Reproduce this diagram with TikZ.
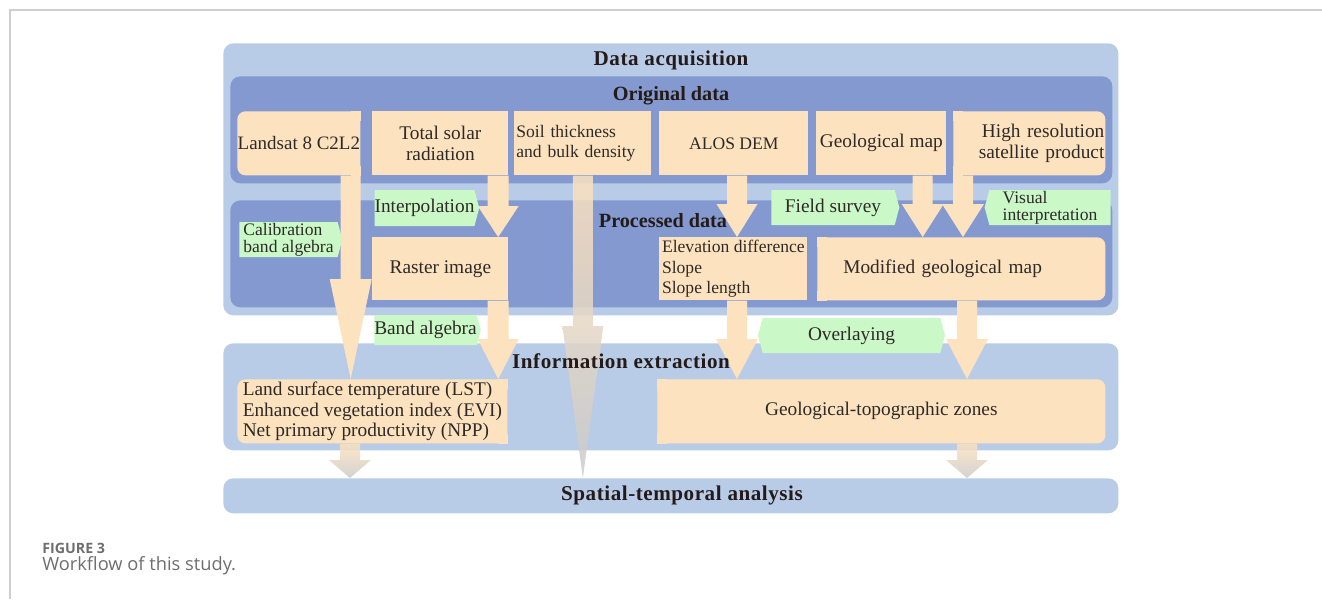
\documentclass[tikz,border=0pt]{standalone}
\usepackage{fontspec}
\setmainfont{Liberation Serif}
\newfontfamily\titlefont[LetterSpace=2.6]{Liberation Serif}
\newfontfamily\captionfont{Open Sans}
\usetikzlibrary{calc,shapes.symbols}
\definecolor{wfink}{HTML}{2E2A28}
\definecolor{wftitle}{HTML}{241A18}
\definecolor{wflight}{HTML}{B8CCE8}
\definecolor{wfdark}{HTML}{8499CF}
\definecolor{wfpeach}{HTML}{FDE2BF}
\definecolor{wfgreen}{HTML}{CAF8C6}
\definecolor{wfgray}{HTML}{CBCBCB}
\definecolor{wfframe}{HTML}{CFCFCF}
\definecolor{wfcaption}{HTML}{6E6E6E}

% block arrow: [style]{start}{tip}{half shaft}{half head}{head length}
\newcommand{\blockarrow}[6][flow]{%
  \path[#1] ($(#2)+(-#4,0)$) -- ($(#2)+(#4,0)$) -- ($(#3)+(#4,-#6)$)
    -- ($(#3)+(#5,-#6)$) -- (#3) -- ($(#3)+(-#5,-#6)$)
    -- ($(#3)+(-#4,-#6)$) -- cycle;}

\begin{document}
\begin{tikzpicture}[
  x=0.02cm,
  y=-0.02cm,
  every node/.style={font=\fontsize{11}{11.6}\selectfont, text=wfink},
  sz/.style 2 args={minimum width=#1*0.02cm, minimum height=#2*0.02cm},
  tw/.style={text width=#1*0.02cm},
  panel/.style={anchor=north west, inner sep=0pt, rounded corners=0.2cm},
  outerpanel/.style={panel, fill=wflight},
  innerpanel/.style={panel, fill=wfdark},
  paneltitle/.style={font=\titlefont\fontsize{12}{14}\selectfont\bfseries,
                     text=wftitle, inner sep=0pt},
  subtitle/.style={font=\fontsize{11.5}{14}\selectfont\bfseries, text=wftitle,
                   inner sep=0pt},
  databox/.style={anchor=north west, fill=wfpeach, inner sep=0pt, align=center},
  listbox/.style={databox, align=left},
  tagbox/.style={shape=signal, fill=wfgreen, inner sep=0pt,
                 signal pointer angle=150, align=left},
  twoline/.style={font=\fontsize{10}{9.6}\selectfont},
  flow/.style={fill=wfpeach},
  fadeflow/.style={top color=wfpeach, bottom color=wfgray, fill opacity=0.85},
  frameline/.style={wfframe, line width=0.7pt}
]
  \useasboundingbox (0,0) rectangle (1322,599);

  % ---- page frame ----
  \draw[frameline] (10,599) -- (10,10) -- (1322,10);

  % ---- panels ----
  \node[outerpanel, sz={895}{272}] (acq)  at (223,43)  {};
  \node[innerpanel, sz={882}{107}] (orig) at (230,76)  {};
  \node[innerpanel, sz={882}{107}] (proc) at (230,200) {};
  \node[outerpanel, sz={895}{107}] (info) at (223,343) {};
  \node[outerpanel, sz={895}{35}]  (spat) at (223,478) {};

  % ---- original data ----
  \node[databox, sz={123}{64}, rounded corners=0.16cm,
        font=\fontsize{10.8}{11.6}\selectfont] (lsat) at (237,111) {Landsat 8 C2L2};
  \node[databox, sz={136}{64}] (solar) at (372,111) {Total solar\\radiation};
  \node[listbox, sz={137}{64}, tw=133, font=\fontsize{10}{11.6}\selectfont]
        (soil) at (514,111) {Soil thickness\\and bulk density};
  \node[databox, sz={149}{64}, font=\fontsize{10}{11.6}\selectfont]
        (alos) at (659,111) {ALOS DEM};
  \node[databox, sz={130}{64}] (geo) at (816,111) {Geological map};
  \node[databox, sz={152}{64}, tw=150, align=right, rounded corners=0.16cm]
        (hires) at (953,111) {High resolution\\satellite product};

  % ---- processed data ----
  \node[databox, sz={136}{63}] (raster) at (372,237) {Raster image};
  \node[listbox, sz={148}{63}, font=\fontsize{10}{11.8}\selectfont]
        (elev) at (659,237) {Elevation difference\\Slope\\Slope length};
  \node[listbox, sz={288}{63}, tw=236, rounded corners=0.16cm]
        (modgeo) at (817,237) {Modified geological map};

  % ---- information extraction ----
  \node[listbox, sz={270}{64}, rounded corners=0.16cm] (lst) at (237,379)
        {Land surface temperature (LST)\\Enhanced vegetation index (EVI)\\Net primary productivity (NPP)};
  \node[databox, sz={448}{64}, rounded corners=0.16cm]
        (zones) at (657,379) {Geological-topographic zones};

  % ---- square off the corners that meet an arrow or a neighbour ----
  \fill[wfpeach] (lsat.north east) rectangle ++(-10,10);
  \fill[wfpeach] (lsat.south east) rectangle ++(-10,-10);
  \fill[wfpeach] (hires.north west) rectangle ++(10,10);
  \fill[wfpeach] (hires.south west) rectangle ++(10,-10);
  \fill[wfpeach] (modgeo.north west) rectangle ++(10,10);
  \fill[wfpeach] (modgeo.south west) rectangle ++(10,-10);
  \fill[wfpeach] (lst.north east) rectangle ++(-10,10);
  \fill[wfpeach] (lst.south east) rectangle ++(-10,-10);
  \fill[wfpeach] (zones.north west) rectangle ++(10,10);
  \fill[wfpeach] (zones.south west) rectangle ++(10,-10);

  % ---- arrows ----
  \coordinate (lsat-o)    at ($(lsat.south east)+(-10,0)$);
  \coordinate (lst-i)     at (lsat-o |- lst.north);
  \blockarrow{lsat-o}{lst-i}{10}{21}{100}

  \coordinate (solar-o)   at ($(solar.south east)+(-10.5,0)$);
  \coordinate (raster-i)  at (solar-o |- raster.north);
  \blockarrow{solar-o}{raster-i}{10.5}{20.5}{31}

  \coordinate (raster-o)  at ($(raster.south east)+(-10.5,0)$);
  \coordinate (lst-i2)    at (raster-o |- lst.north);
  \blockarrow{raster-o}{lst-i2}{10.5}{20.5}{40}

  \coordinate (soil-o)    at (soil.south);
  \coordinate (spat-i)    at (soil-o |- spat.north);
  \blockarrow[fadeflow]{soil-o}{spat-i}{10}{20.5}{152}

  \coordinate (alos-o)    at ($(alos.south west)+(78,0)$);
  \coordinate (elev-i)    at (alos-o |- elev.north);
  \blockarrow{alos-o}{elev-i}{10}{20.5}{33}

  \coordinate (geo-o)     at ($(geo.south east)+(-24,0)$);
  \coordinate (modgeo-i)  at (geo-o |- modgeo.north);
  \blockarrow{geo-o}{modgeo-i}{10}{21}{33}

  \coordinate (hires-o)   at ($(hires.south west)+(10,0)$);
  \coordinate (modgeo-i2) at (hires-o |- modgeo.north);
  \blockarrow{hires-o}{modgeo-i2}{10}{21}{33}

  \coordinate (elev-o)    at ($(elev.south west)+(78,0)$);
  \coordinate (zones-i)   at (elev-o |- zones.north);
  \blockarrow{elev-o}{zones-i}{10}{21}{40}

  \coordinate (modgeo-o)  at ($(modgeo.south west)+(150,0)$);
  \coordinate (zones-i2)  at (modgeo-o |- zones.north);
  \blockarrow{modgeo-o}{zones-i2}{10}{21}{40}

  \coordinate (lst-o)     at ($(lst.south west)+(113,0)$);
  \coordinate (spat-i2)   at (lst-o |- spat.north);
  \blockarrow[fadeflow]{lst-o}{spat-i2}{10}{21}{18}

  \coordinate (zones-o)   at ($(zones.south west)+(310,0)$);
  \coordinate (spat-i3)   at (zones-o |- spat.north);
  \blockarrow[fadeflow]{zones-o}{spat-i3}{10}{21}{18}

  % ---- method tags ----
  \node[tagbox, twoline, signal to=east, sz={103}{35}] (calib) at (288.5,239.5)
        {Calibration\\band algebra};
  \node[tagbox, signal to=east, sz={103}{36}] (interp) at (424.5,208) {Interpolation};
  \node[tagbox, signal to=east, sz={105}{30}] (bandalg) at (425.5,330) {Band algebra};
  \node[tagbox, signal to=east, sz={128}{35}] (field) at (833,207.5) {Field survey};
  \node[tagbox, twoline, signal to=west, sz={126}{35}] (visual) at (1050,207.5)
        {Visual\\interpretation};
  \node[tagbox, signal to=east and west, sz={187}{35}] (overlay) at (851.5,335.5)
        {Overlaying};

  % ---- panel titles ----
  \node[paneltitle] (acq-t)  at (671,60)  {Data acquisition};
  \node[subtitle]   (orig-t) at (671,96)  {Original data};
  \node[subtitle]   (proc-t) at (663,221) {Processed data};
  \node[paneltitle] (info-t) at (621,361) {Information extraction};
  \node[paneltitle] (spat-t) at (682,495) {Spatial-temporal analysis};

  % ---- caption ----
  \node[anchor=base west, inner sep=0pt, text=wfcaption,
        font=\captionfont\fontsize{8.1}{9}\selectfont\bfseries]
        (fig-no) at (42,553) {FIGURE 3};
  \node[anchor=base west, inner sep=0pt, text=wfcaption,
        font=\captionfont\fontsize{10.4}{12}\selectfont]
        (fig-cap) at (42,570) {Workflow of this study.};
\end{tikzpicture}
\end{document}
